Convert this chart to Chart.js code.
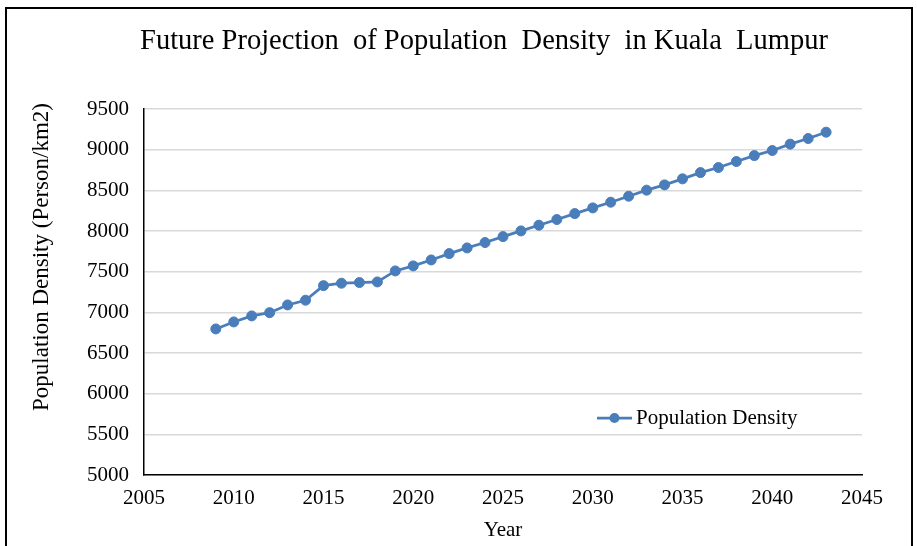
<!DOCTYPE html>
<html>
<head>
<meta charset="utf-8">
<script src="https://cdn.jsdelivr.net/npm/chart.js@4.4.1/dist/chart.umd.min.js"></script>
<style>
  html, body { margin: 0; padding: 0; background: #fff; }
  #wrap { position: absolute; left: 0; top: 0; width: 917px; height: 546px; }
</style>
</head>
<body>
<div id="wrap"><canvas id="c" width="917" height="546"></canvas></div>
<script>
const chartTitle = "Future Projection  of Population  Density  in Kuala  Lumpur";
const xAxisTitle = "Year";
const yAxisTitle = "Population Density (Person/km2)";
const seriesName = "Population Density";
const years = [2009,2010,2011,2012,2013,2014,2015,2016,2017,2018,2019,2020,2021,2022,2023,2024,2025,2026,2027,2028,2029,2030,2031,2032,2033,2034,2035,2036,2037,2038,2039,2040,2041,2042,2043];
const density = [6796,6882,6956,6996,7091,7149,7328,7358,7366,7374,7509,7571,7644,7722,7792,7858,7931,8001,8071,8141,8214,8284,8354,8428,8502,8567,8641,8718,8780,8854,8927,8989,9068,9137,9215];
const xTicks = [2005,2010,2015,2020,2025,2030,2035,2040,2045];
const yTicks = [5000,5500,6000,6500,7000,7500,8000,8500,9000,9500];

const FONT = "'Liberation Serif', 'Times New Roman', serif";
const BLUE = '#4a7ebb';

const decor = {
  id: 'decor',
  beforeDraw(chart) {
    const ctx = chart.ctx;
    ctx.save();
    ctx.fillStyle = '#fff';
    ctx.fillRect(0, 0, chart.width, chart.height);
    ctx.restore();
  },
  afterDraw(chart) {
    const ctx = chart.ctx;
    ctx.save();
    // frame
    ctx.strokeStyle = '#000';
    ctx.lineWidth = 2;
    ctx.strokeRect(6, 8, 906, 600);
    // title
    ctx.fillStyle = '#000';
    ctx.font = '28.5px ' + FONT;
    ctx.textAlign = 'center';
    ctx.textBaseline = 'middle';
    ctx.fillText(chartTitle, 484, 42);
    // y axis title
    ctx.save();
    ctx.translate(42, 257);
    ctx.rotate(-Math.PI / 2);
    ctx.font = '23px ' + FONT;
    ctx.fillText(yAxisTitle, 0, 0);
    ctx.restore();
    // x axis title
    ctx.font = '21px ' + FONT;
    ctx.fillText(xAxisTitle, (chart.chartArea.left + chart.chartArea.right) / 2, 530);
    // legend
    const ly = 418;
    ctx.strokeStyle = BLUE;
    ctx.lineWidth = 2.75;
    ctx.beginPath();
    ctx.moveTo(597, ly);
    ctx.lineTo(632, ly);
    ctx.stroke();
    ctx.fillStyle = BLUE;
    ctx.beginPath();
    ctx.arc(614.5, ly, 5, 0, Math.PI * 2);
    ctx.fill();
    ctx.fillStyle = '#000';
    ctx.textAlign = 'left';
    ctx.font = '21px ' + FONT;
    ctx.fillText(seriesName, 636, ly);
    ctx.restore();
  }
};

new Chart(document.getElementById('c'), {
  type: 'line',
  data: {
    datasets: [{
      label: seriesName,
      data: years.map((y, i) => ({ x: y, y: density[i] })),
      borderColor: BLUE,
      backgroundColor: BLUE,
      borderWidth: 2.75,
      pointRadius: 5,
      pointHoverRadius: 5,
      pointBackgroundColor: BLUE,
      pointBorderColor: BLUE,
      pointBorderWidth: 1,
      tension: 0
    }]
  },
  options: {
    responsive: false,
    animation: false,
    devicePixelRatio: 1,
    layout: { padding: { left: 0, right: 55, top: 109, bottom: 0 } },
    plugins: { legend: { display: false }, title: { display: false }, tooltip: { enabled: false } },
    scales: {
      x: {
        type: 'linear',
        min: 2005, max: 2045,
        afterBuildTicks(scale) { scale.ticks = xTicks.map(v => ({ value: v })); },
        afterFit(scale) { scale.height = 71; },
        grid: { display: false, drawTicks: false },
        border: { display: true, color: '#000', width: 1.5 },
        ticks: { color: '#000', font: { family: FONT, size: 21 }, padding: 11, maxRotation: 0, callback: v => String(v) }
      },
      y: {
        type: 'linear',
        min: 5000, max: 9500,
        afterBuildTicks(scale) { scale.ticks = yTicks.map(v => ({ value: v })); },
        afterFit(scale) { scale.width = 144; },
        grid: { color: '#d9d9d9', lineWidth: 1.5, drawTicks: false },
        border: { display: true, color: '#000', width: 1.5 },
        ticks: { color: '#000', font: { family: FONT, size: 21 }, padding: 15, callback: v => String(v) }
      }
    }
  },
  plugins: [decor]
});
</script>
</body>
</html>
